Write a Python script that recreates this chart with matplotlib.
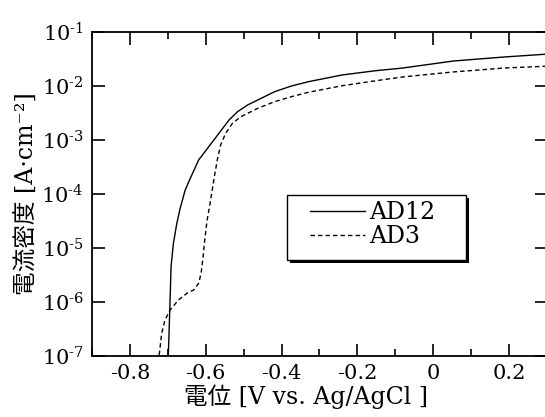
import math
import matplotlib
matplotlib.use("Agg")
import matplotlib.pyplot as plt
from matplotlib.patches import Rectangle
from matplotlib.ticker import LogLocator, MultipleLocator, NullLocator

plt.rcParams['font.family'] = ['DejaVu Serif', 'Noto Sans CJK JP']
plt.rcParams['mathtext.fontset'] = 'dejavuserif'
plt.rcParams['axes.unicode_minus'] = False

# polarization curves: potential [V vs. Ag/AgCl], current density [A/cm2]
ad12_v = [-0.699, -0.6987, -0.6968, -0.6941, -0.6915, -0.6853, -0.6763, -0.6675,
          -0.6541, -0.6408, -0.6187, -0.592, -0.5653, -0.5387, -0.5163, -0.4896,
          -0.4629, -0.4187, -0.3741, -0.3296, -0.2408, -0.152, -0.0808, 0.0525,
          0.1859, 0.306]
ad12_j = [1e-8, 1.05e-7, 2.67e-7, 1.09e-6, 4.51e-6, 1.22e-5, 2.86e-5, 5.43e-5,
          1.19e-4, 1.95e-4, 4.27e-4, 7.52e-4, 1.33e-3, 2.34e-3, 3.34e-3, 4.45e-3,
          5.51e-3, 7.83e-3, 1.0e-2, 1.20e-2, 1.60e-2, 1.92e-2, 2.15e-2, 2.90e-2,
          3.44e-2, 3.92e-2]

ad3_v = [-0.727, -0.7227, -0.7163, -0.7075, -0.6941, -0.672, -0.6496, -0.632,
         -0.6187, -0.6123, -0.6069, -0.6027, -0.5963, -0.5901, -0.5787, -0.5696,
         -0.5608, -0.5475, -0.5296, -0.5075, -0.4808, -0.4629, -0.4187, -0.3741,
         -0.3296, -0.2408, -0.152, -0.0808, 0.0525, 0.1859, 0.306]
ad3_j = [4e-8, 1.05e-7, 2.63e-7, 4.65e-7, 7.11e-7, 1.09e-6, 1.45e-6, 1.67e-6,
         2.22e-6, 3.40e-6, 6.90e-6, 1.41e-5, 3.30e-5, 5.82e-5, 1.82e-4, 4.27e-4,
         8.07e-4, 1.33e-3, 2.04e-3, 2.70e-3, 3.34e-3, 3.86e-3, 5.12e-3, 6.34e-3,
         7.64e-3, 1.01e-2, 1.25e-2, 1.47e-2, 1.82e-2, 2.15e-2, 2.34e-2]

fig = plt.figure(figsize=(5.45, 4.17), dpi=100)
ax = fig.add_axes([92 / 545, 61 / 417, 455 / 545, 324 / 417])

ax.plot(ad12_v, ad12_j, color='black', lw=1.0, label='AD12')
ax.plot(ad3_v, ad3_j, color='black', lw=1.0, dashes=(3.2, 2.2), label='AD3')

ax.set_yscale('log')
ax.set_xlim(-0.9, 0.3)
ax.set_ylim(1e-7, 1e-1)


def decade_label(v, pos):
    # 10 with a plain hyphen in the exponent
    e = int(round(math.log10(v)))
    sign = '\\text{-}' if e < 0 else ''
    return f'10$^{{{sign}{abs(e)}}}$'


ax.xaxis.set_major_locator(MultipleLocator(0.2))
ax.xaxis.set_minor_locator(MultipleLocator(0.1))
ax.yaxis.set_major_locator(LogLocator(base=10, numticks=10))
ax.yaxis.set_minor_locator(NullLocator())
ax.yaxis.set_major_formatter(plt.FuncFormatter(decade_label))
ax.xaxis.set_major_formatter(plt.FuncFormatter(lambda v, p: '0' if abs(v) < 1e-9 else f'{v:.1f}'))

ax.tick_params(which='both', direction='in', top=True, right=True,
               labelsize=15, width=1.2, pad=6)
ax.tick_params(which='major', length=9)
ax.tick_params(which='minor', length=5)
for sp in ax.spines.values():
    sp.set_linewidth(1.3)

ax.set_xlabel('電位 [V vs. Ag/AgCl ]', fontsize=17, labelpad=0)
ax.xaxis.set_label_coords(0.47, -0.088)
ax.set_ylabel('電流密度 [A·cm⁻²]', fontsize=17, labelpad=2)

# legend box with a solid drop shadow
box = (0.428, 0.296, 0.395, 0.201)
ax.add_patch(Rectangle((box[0] + 0.0066, box[1] - 0.0093), box[2], box[3],
                       transform=ax.transAxes, facecolor='black',
                       edgecolor='none', zorder=5))
ax.add_patch(Rectangle(box[:2], box[2], box[3], transform=ax.transAxes,
                       facecolor='white', edgecolor='black', lw=1.0, zorder=6))
leg = ax.legend(loc='upper left', bbox_to_anchor=(0.479, 0.478), fontsize=17,
                frameon=False, borderaxespad=0, borderpad=0,
                handlelength=2.35, handletextpad=0.15, labelspacing=0.05)
leg.set_zorder(7)

fig.savefig('out.png', dpi=100)
